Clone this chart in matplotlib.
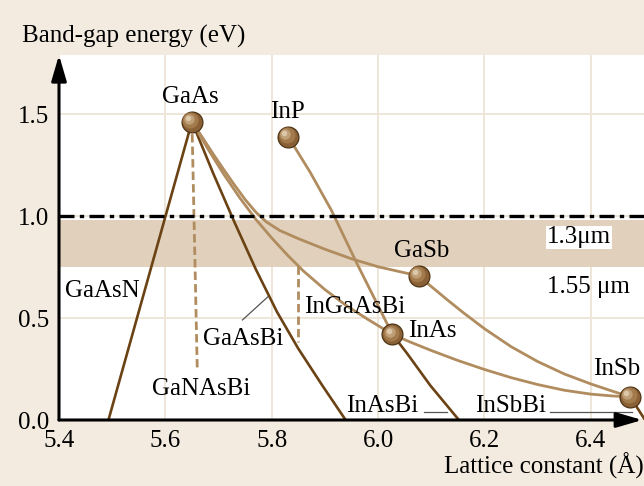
import matplotlib.pyplot as plt
import matplotlib.transforms as mtransforms

plt.rcParams['font.family'] = ['Liberation Serif', 'DejaVu Serif']
plt.rcParams['font.size'] = 18

# binary compounds: lattice constant (A), band gap (eV)
binary_names = ["GaAs", "InP", "GaSb", "InAs", "InSb"]
binary_a = [5.650, 5.831, 6.076, 6.027, 6.474]
binary_eg = [1.464, 1.390, 0.707, 0.420, 0.114]

# alloy curves read along their length
gaasn_a = [5.650, 5.493]
gaasn_eg = [1.464, 0.0]

gaasbi_a = [5.650, 5.690, 5.730, 5.770, 5.810, 5.850, 5.895, 5.939]
gaasbi_eg = [1.464, 1.21, 0.97, 0.74, 0.53, 0.35, 0.17, 0.0]

gaassb_a = [5.650, 5.670, 5.690, 5.710, 5.730, 5.750, 5.770, 5.790, 5.815, 5.850,
            5.900, 5.950, 6.000, 6.076]
gaassb_eg = [1.464, 1.385, 1.305, 1.228, 1.153, 1.082, 1.020, 0.972, 0.930, 0.890,
             0.838, 0.791, 0.752, 0.707]

ingaas_a = [5.650, 5.680, 5.710, 5.740, 5.770, 5.800, 5.830, 5.860, 5.900, 5.940,
            5.980, 6.027]
ingaas_eg = [1.464, 1.330, 1.205, 1.090, 0.985, 0.893, 0.808, 0.730, 0.640, 0.562,
             0.495, 0.420]

inpas_a = [5.831, 5.872, 5.912, 5.960, 6.004, 6.027]
inpas_eg = [1.390, 1.217, 1.030, 0.769, 0.540, 0.420]

inasbi_a = [6.027, 6.055, 6.098, 6.152]
inasbi_eg = [0.420, 0.325, 0.170, 0.0]

inassb_a = [6.027, 6.060, 6.100, 6.150, 6.200, 6.250, 6.300, 6.350, 6.400, 6.440, 6.474]
inassb_eg = [0.420, 0.383, 0.341, 0.292, 0.248, 0.208, 0.174, 0.146, 0.127, 0.118, 0.114]

gainsb_a = [6.076, 6.100, 6.130, 6.160, 6.200, 6.250, 6.300, 6.350, 6.400, 6.440, 6.474]
gainsb_eg = [0.707, 0.655, 0.590, 0.527, 0.448, 0.360, 0.287, 0.226, 0.177, 0.142, 0.114]

insbbi_a = [6.474, 6.502]
insbbi_eg = [0.114, 0.0]

# quaternary bismides (dashed drops)
ganasbi_a = [5.650, 5.660]
ganasbi_eg = [1.464, 0.245]
ingaasbi_a = [5.849, 5.849]
ingaasbi_eg = [0.755, 0.383]

band_low, band_high = 0.75, 0.98
eg_1eV = 1.0

xticks = [5.4, 5.6, 5.8, 6.0, 6.2, 6.4]
yticks = [0.0, 0.5, 1.0, 1.5]

bg = '#f3ebe0'
dark = '#6b4214'
light = '#b08c5f'
grid_c = '#efe6d9'

fig = plt.figure(figsize=(6.44, 4.86), dpi=100, facecolor=bg)
ax = fig.add_axes([59 / 644, 66 / 486, 585 / 644, 365 / 486])
ax.set_facecolor('white')
ax.set_xlim(5.4, 6.5)
ax.set_ylim(0, 1.791)

for s in ax.spines.values():
    s.set_visible(False)

ax.set_xticks(xticks)
ax.set_xticklabels([f"{v:.1f}" for v in xticks])
ax.set_yticks(yticks)
ax.set_yticklabels([f"{v:.1f}" for v in yticks])
ax.tick_params(length=0, pad=7, labelsize=18)
ax.grid(True, color=grid_c, lw=1.4, zorder=0)
ax.set_axisbelow(True)

ax.axhspan(band_low, band_high, color='#e1d0bc', lw=0, zorder=1)
ax.axhline(eg_1eV, color='black', lw=2.4, ls=(0, (4.5, 1.6, 1.3, 1.6)), zorder=4)

ax.plot(gaasn_a, gaasn_eg, color=dark, lw=1.9, zorder=2)
ax.plot(gaasbi_a, gaasbi_eg, color=dark, lw=1.9, zorder=2)
ax.plot(inasbi_a, inasbi_eg, color=dark, lw=1.9, zorder=2)
ax.plot(insbbi_a, insbbi_eg, color=dark, lw=1.9, zorder=2)
for xa, ya in [(gaassb_a, gaassb_eg), (ingaas_a, ingaas_eg), (inpas_a, inpas_eg),
               (inassb_a, inassb_eg), (gainsb_a, gainsb_eg)]:
    ax.plot(xa, ya, color=light, lw=2.0, zorder=2, solid_joinstyle='round')
ax.plot(ganasbi_a, ganasbi_eg, color=light, lw=2.0, ls=(0, (3, 1.5)), zorder=2)
ax.plot(ingaasbi_a, ingaasbi_eg, color=light, lw=2.0, ls=(0, (3, 1.5)), zorder=2)

# leader lines
ax.plot([5.745, 5.793], [0.491, 0.605], color='#555555', lw=0.9, zorder=2)
ax.plot([6.086, 6.130], [0.039, 0.039], color='#555555', lw=0.9, zorder=2)
ax.plot([6.323, 6.477], [0.039, 0.039], color='#555555', lw=0.9, zorder=2)

# shaded balls for the binaries
ax.plot(binary_a, binary_eg, 'o', ms=15, mfc='#8a6136', mec='#4f3315', mew=0.9,
        zorder=6, clip_on=False)
for shift, ms, col in [(1.1, 11.5, '#a27a4c'), (2.0, 7.5, '#bf9f78'), (2.8, 4.0, '#dcc7a8')]:
    tr = mtransforms.offset_copy(ax.transData, fig=fig, x=-shift, y=shift, units='points')
    ax.plot(binary_a, binary_eg, 'o', ms=ms, mfc=col, mec='none', transform=tr,
            zorder=7, clip_on=False)

# axes with arrow heads
arrow = dict(arrowstyle='-|>,head_length=1.3,head_width=0.38', lw=2.2, color='black',
             mutation_scale=12, shrinkA=0, shrinkB=0)
ax.annotate('', xy=(0, 1.0), xytext=(0, 0), xycoords='axes fraction', arrowprops=arrow,
            annotation_clip=False, zorder=8)
ax.annotate('', xy=(0.997, 0), xytext=(0, 0), xycoords='axes fraction', arrowprops=arrow,
            annotation_clip=False, zorder=8)

# labels
ax.text(5.646, 1.555, "GaAs", ha='center', va='baseline', zorder=9)
ax.text(5.829, 1.480, "InP", ha='center', va='baseline', zorder=9)
ax.text(6.082, 0.801, "GaSb", ha='center', va='baseline', zorder=9)
ax.text(6.056, 0.406, "InAs", ha='left', va='baseline', zorder=9)
ax.text(6.449, 0.221, "InSb", ha='center', va='baseline', zorder=9)
ax.text(5.411, 0.605, "GaAsN", ha='left', va='baseline', zorder=9)
ax.text(5.670, 0.368, "GaAsBi", ha='left', va='baseline', zorder=9)
ax.text(5.574, 0.123, "GaNAsBi", ha='left', va='baseline', zorder=9)
ax.text(5.861, 0.523, "InGaAsBi", ha='left', va='baseline', zorder=9)
ax.text(5.940, 0.041, "InAsBi", ha='left', va='baseline', zorder=9)
ax.text(6.182, 0.041, "InSbBi", ha='left', va='baseline', zorder=9)
ax.text(6.317, 0.867, "1.3μm", ha='left', va='baseline', zorder=9,
        bbox=dict(facecolor='white', edgecolor='none', pad=0.6))
ax.text(6.317, 0.625, "1.55 μm", ha='left', va='baseline', zorder=9)

fig.text(21.7 / 644, (486 - 42.7) / 486, "Band-gap energy (eV)", ha='left', va='baseline',
         fontsize=18)
fig.text(0.999, (486 - 474) / 486, "Lattice constant (Å)", ha='right', va='baseline',
         fontsize=18)

fig.savefig("out.png", dpi=100, facecolor=bg)
